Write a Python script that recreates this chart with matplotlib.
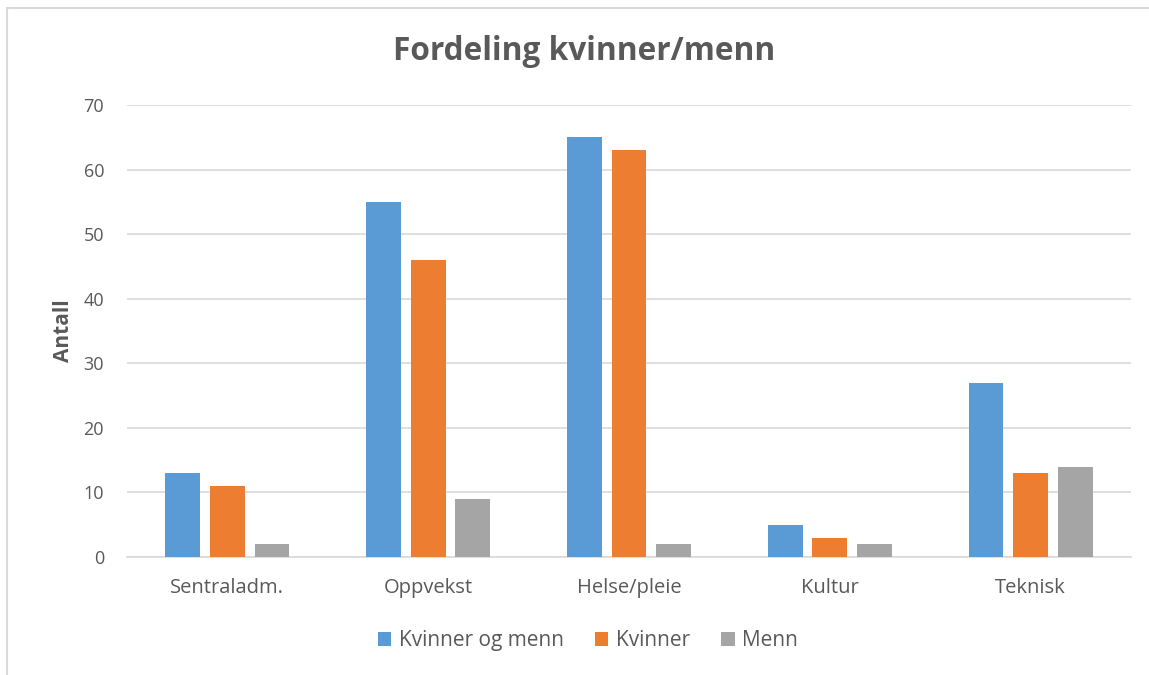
import numpy as np
import matplotlib.pyplot as plt
from matplotlib.patches import Rectangle

categories = ['Sentraladm.', 'Oppvekst', 'Helse/pleie', 'Kultur', 'Teknisk']
begge = [13, 55, 65, 5, 27]
kvinner = [11, 46, 63, 3, 13]
menn = [2, 9, 2, 2, 14]

series = [('Kvinner og menn', begge, '#5B9BD5'),
          ('Kvinner', kvinner, '#ED7D31'),
          ('Menn', menn, '#A5A5A5')]

plt.rcParams['font.family'] = ['Open Sans', 'DejaVu Sans']
txt = '#595959'

fig = plt.figure(figsize=(11.49, 6.75), dpi=100)
ax = fig.add_axes([127 / 1149, 1 - 557 / 675, (1131 - 127) / 1149, (557 - 105) / 675])

x = np.arange(len(categories))
w = 0.174
offsets = [-0.222, 0, 0.222]
for (name, vals, col), off in zip(series, offsets):
    ax.bar(x + off, vals, w, color=col, label=name, zorder=3)

ax.set_xlim(-0.5, len(categories) - 0.5)
ax.set_ylim(0, 70)
ax.set_yticks(range(0, 71, 10))
ax.set_xticks(x)
ax.set_xticklabels(categories)
ax.grid(axis='y', color='#D9D9D9', linewidth=1.2, zorder=0)
for s in ['top', 'right', 'left']:
    ax.spines[s].set_visible(False)
ax.spines['bottom'].set_color('#D9D9D9')
ax.spines['bottom'].set_linewidth(1.2)
ax.tick_params(length=0, colors=txt)
ax.tick_params(axis='y', pad=16.5, labelsize=13)
ax.tick_params(axis='x', pad=15, labelsize=14.5)

ax.set_ylabel('Antall', fontsize=15, fontweight='bold', color=txt, labelpad=7)

fig.text(0.508, 1 - 51 / 675, 'Fordeling kvinner/menn', ha='center', va='center',
         fontsize=22.8, fontweight='bold', color=txt)

ax.legend(loc='center', bbox_to_anchor=(0.459, -0.185), ncol=3, frameon=False,
          fontsize=15, labelcolor=txt, handlelength=0.65, handleheight=0.65,
          handletextpad=0.35, columnspacing=1.5)

# outer chart border (only top and left visible in the crop)
fig.patches.append(Rectangle((7 / 1149, -0.1), 1.2, 1 - 8 / 675 + 0.1,
                             transform=fig.transFigure, fill=False,
                             edgecolor='#D9D9D9', linewidth=1.5))

fig.savefig('out.png', dpi=100, facecolor='white')
